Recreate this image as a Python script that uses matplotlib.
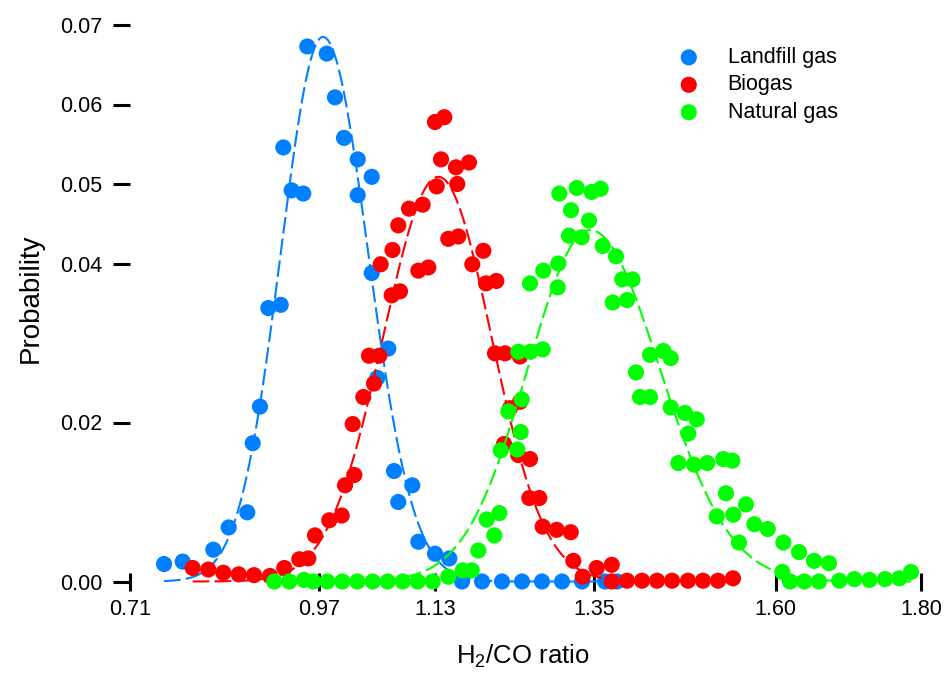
import numpy as np
import matplotlib
matplotlib.use("Agg")
import matplotlib.pyplot as plt

plt.rcParams['font.family'] = ['Liberation Sans', 'DejaVu Sans']
plt.rcParams['mathtext.fontset'] = 'custom'
plt.rcParams['mathtext.rm'] = 'Liberation Sans'
plt.rcParams['mathtext.it'] = 'Liberation Sans'

# ---------------- data ----------------
series_names = ["Landfill gas", "Biogas", "Natural gas"]
series_colors = ["#0080FF", "#FF0000", "#00FF00"]

landfill_x = [0.7569, 0.7826, 0.8248, 0.8460, 0.8716, 0.8791, 0.8891, 0.9006, 0.9177,
              0.9213, 0.9328, 0.9488, 0.9543, 0.9811, 0.9925, 1.0049, 1.0238, 1.0238,
              1.0431, 1.0431, 1.0508, 1.0659, 1.0738, 1.0797, 1.0990, 1.1073, 1.1303,
              1.1500, 1.1675, 1.1951, 1.2226, 1.2502, 1.2777, 1.3053, 1.3329, 1.3646, 1.3811]
landfill_y = [0.0022, 0.0025, 0.0040, 0.0068, 0.0087, 0.0174, 0.0220, 0.0344, 0.0348,
              0.0546, 0.0492, 0.0488, 0.0673, 0.0664, 0.0609, 0.0558, 0.0531, 0.0486,
              0.0509, 0.0388, 0.0256, 0.0293, 0.0139, 0.0100, 0.0121, 0.0050, 0.0035,
              0.0029, 0.0, 0.0, 0.0, 0.0, 0.0, 0.0, 0.0, 0.0, 0.0]

biogas_x = [0.7964, 0.8179, 0.8386, 0.8598, 0.8809, 0.9029, 0.9226, 0.9433, 0.9557, 0.9649,
            0.9846, 1.0017, 1.0063, 1.0191, 1.0169, 1.0315, 1.0393, 1.0462, 1.0535, 1.0555,
            1.0706, 1.0717, 1.0797, 1.0821, 1.0945, 1.1073, 1.1133, 1.1211, 1.1303, 1.1326,
            1.1386, 1.1431, 1.1486, 1.1592, 1.1610, 1.1624, 1.1771, 1.1817, 1.1969, 1.2006,
            1.2130, 1.2148, 1.2254, 1.2268, 1.2336, 1.2451, 1.2474, 1.2474, 1.2602, 1.2612,
            1.2740, 1.2787, 1.2980, 1.3173, 1.3209, 1.3338, 1.3531, 1.3738, 1.3738, 1.3949,
            1.4155, 1.4362, 1.4569, 1.4789, 1.4996, 1.5203, 1.5409]
biogas_y = [0.0017, 0.0015, 0.0011, 0.0009, 0.0008, 0.0007, 0.0017, 0.0028, 0.0029, 0.0058,
            0.0077, 0.0083, 0.0121, 0.0134, 0.0198, 0.0232, 0.0284, 0.0249, 0.0284, 0.0399,
            0.0360, 0.0417, 0.0448, 0.0365, 0.0469, 0.0391, 0.0474, 0.0395, 0.0578, 0.0497,
            0.0531, 0.0584, 0.0431, 0.0521, 0.0500, 0.0434, 0.0527, 0.0399, 0.0416, 0.0375,
            0.0287, 0.0378, 0.0173, 0.0287, 0.0218, 0.0159, 0.0226, 0.0283, 0.0105, 0.0154,
            0.0105, 0.0069, 0.0065, 0.0062, 0.0026, 0.0006, 0.0017, 0.0021, 0.0, 0.0001,
            0.0001, 0.0001, 0.0001, 0.0001, 0.0001, 0.0001, 0.0004]

natural_x = [0.9088, 0.9295, 0.9498, 0.9626, 0.9819, 1.0026, 1.0233, 1.0444, 1.0651, 1.0858,
             1.1064, 1.1271, 1.1486, 1.1685, 1.1809, 1.1900, 1.2015, 1.2120, 1.2189, 1.2208,
             1.2313, 1.2437, 1.2451, 1.2484, 1.2498, 1.2612, 1.2619, 1.2787, 1.2795, 1.2994,
             1.3002, 1.3016, 1.3149, 1.3177, 1.3256, 1.3325, 1.3425, 1.3462, 1.3586, 1.3614,
             1.3752, 1.3797, 1.3884, 1.3949, 1.4025, 1.4073, 1.4128, 1.4266, 1.4266, 1.4449,
             1.4551, 1.4551, 1.4656, 1.4748, 1.4793, 1.4872, 1.4909, 1.5055, 1.5185, 1.5276,
             1.5313, 1.5400, 1.5413, 1.5492, 1.5588, 1.5703, 1.5888, 1.6089, 1.6103, 1.6195,
             1.6319, 1.6392, 1.6526, 1.6594, 1.6732, 1.6874, 1.7081, 1.7288, 1.7504, 1.7701,
             1.7862]
natural_y = [0.0, 0.0, 0.0002, 0.0, 0.0, 0.0, 0.0, 0.0, 0.0, 0.0,
             0.0, 0.0, 0.0006, 0.0014, 0.0014, 0.0039, 0.0078, 0.0058, 0.0086, 0.0165,
             0.0214, 0.0166, 0.0289, 0.0188, 0.0229, 0.0375, 0.0289, 0.0292, 0.0391, 0.0370,
             0.0400, 0.0488, 0.0435, 0.0467, 0.0495, 0.0433, 0.0454, 0.0490, 0.0494, 0.0422,
             0.0351, 0.0409, 0.0380, 0.0354, 0.0380, 0.0263, 0.0232, 0.0285, 0.0232, 0.0290,
             0.0281, 0.0219, 0.0149, 0.0212, 0.0186, 0.0147, 0.0204, 0.0149, 0.0082, 0.0154,
             0.0111, 0.0152, 0.0084, 0.0049, 0.0097, 0.0072, 0.0066, 0.0012, 0.0049, 0.0,
             0.0037, 0.0, 0.0026, 0.0, 0.0023, 0.0001, 0.0003, 0.0002, 0.0003, 0.0004,
             0.0012]

# fitted curve parameters: (centre, peak, sigma_left, sigma_right)
fit_params = [(0.976, 0.0685, 0.058, 0.062),
              (1.135, 0.0509, 0.076, 0.073),
              (1.344, 0.0442, 0.086, 0.096)]

x_ticks = [0.71, 0.97, 1.13, 1.35, 1.60, 1.80]
x_tick_labels = ["0.71", "0.97", "1.13", "1.35", "1.60", "1.80"]
y_ticks = [0.00, 0.02, 0.04, 0.05, 0.06, 0.07]
y_tick_labels = ["0.00", "0.02", "0.04", "0.05", "0.06", "0.07"]

# ---------------- figure ----------------
W, H = 952, 677
fig = plt.figure(figsize=(W / 100, H / 100), dpi=100)
ax = fig.add_axes([130 / W, (H - 581.5) / H, 791 / W, 556.5 / H])
ax.set_xlim(0.71, 1.80)
ax.set_ylim(0.0, 0.07)

xs_all = [landfill_x, biogas_x, natural_x]
ys_all = [landfill_y, biogas_y, natural_y]

for name, col, xs, ys, (mu, pk, sl, sr) in zip(series_names, series_colors, xs_all, ys_all, fit_params):
    ax.scatter(xs, ys, s=135, color=col, edgecolors='none', label=name, clip_on=False, zorder=3)
    xx = np.linspace(min(xs), max(xs), 400)
    sig = np.where(xx < mu, sl, sr)
    yy = pk * np.exp(-0.5 * ((xx - mu) / sig) ** 2)
    ax.plot(xx, yy, color=col, lw=1.5, dashes=(8, 2.5), clip_on=False, zorder=3)

for sp in ax.spines.values():
    sp.set_visible(False)

ax.set_xticks(x_ticks)
ax.set_xticklabels(x_tick_labels)
ax.set_yticks(y_ticks)
ax.set_yticklabels(y_tick_labels)
ax.tick_params(axis='x', direction='inout', length=13, width=2.2, pad=6, labelsize=15.5, colors='black')
ax.tick_params(axis='y', direction='out', length=12, width=2.2, pad=8, labelsize=15.5, colors='black')

ax.set_xlabel(r"H$_2$/CO ratio", fontsize=18.5)
ax.xaxis.set_label_coords((523 - 130) / 791, (581.5 - 643) / 556.5)
ax.set_ylabel("Probability", fontsize=20)
ax.yaxis.set_label_coords((44 - 130) / 791, (581.5 - 298) / 556.5)

leg = ax.legend(loc='upper left', bbox_to_anchor=(678 / W, 1 - 47 / H), bbox_transform=fig.transFigure,
                frameon=False, fontsize=15.5, handlelength=1.0, handletextpad=1.3,
                labelspacing=0.3, borderpad=0, borderaxespad=0, scatterpoints=1)

fig.savefig("out.png", dpi=100)
